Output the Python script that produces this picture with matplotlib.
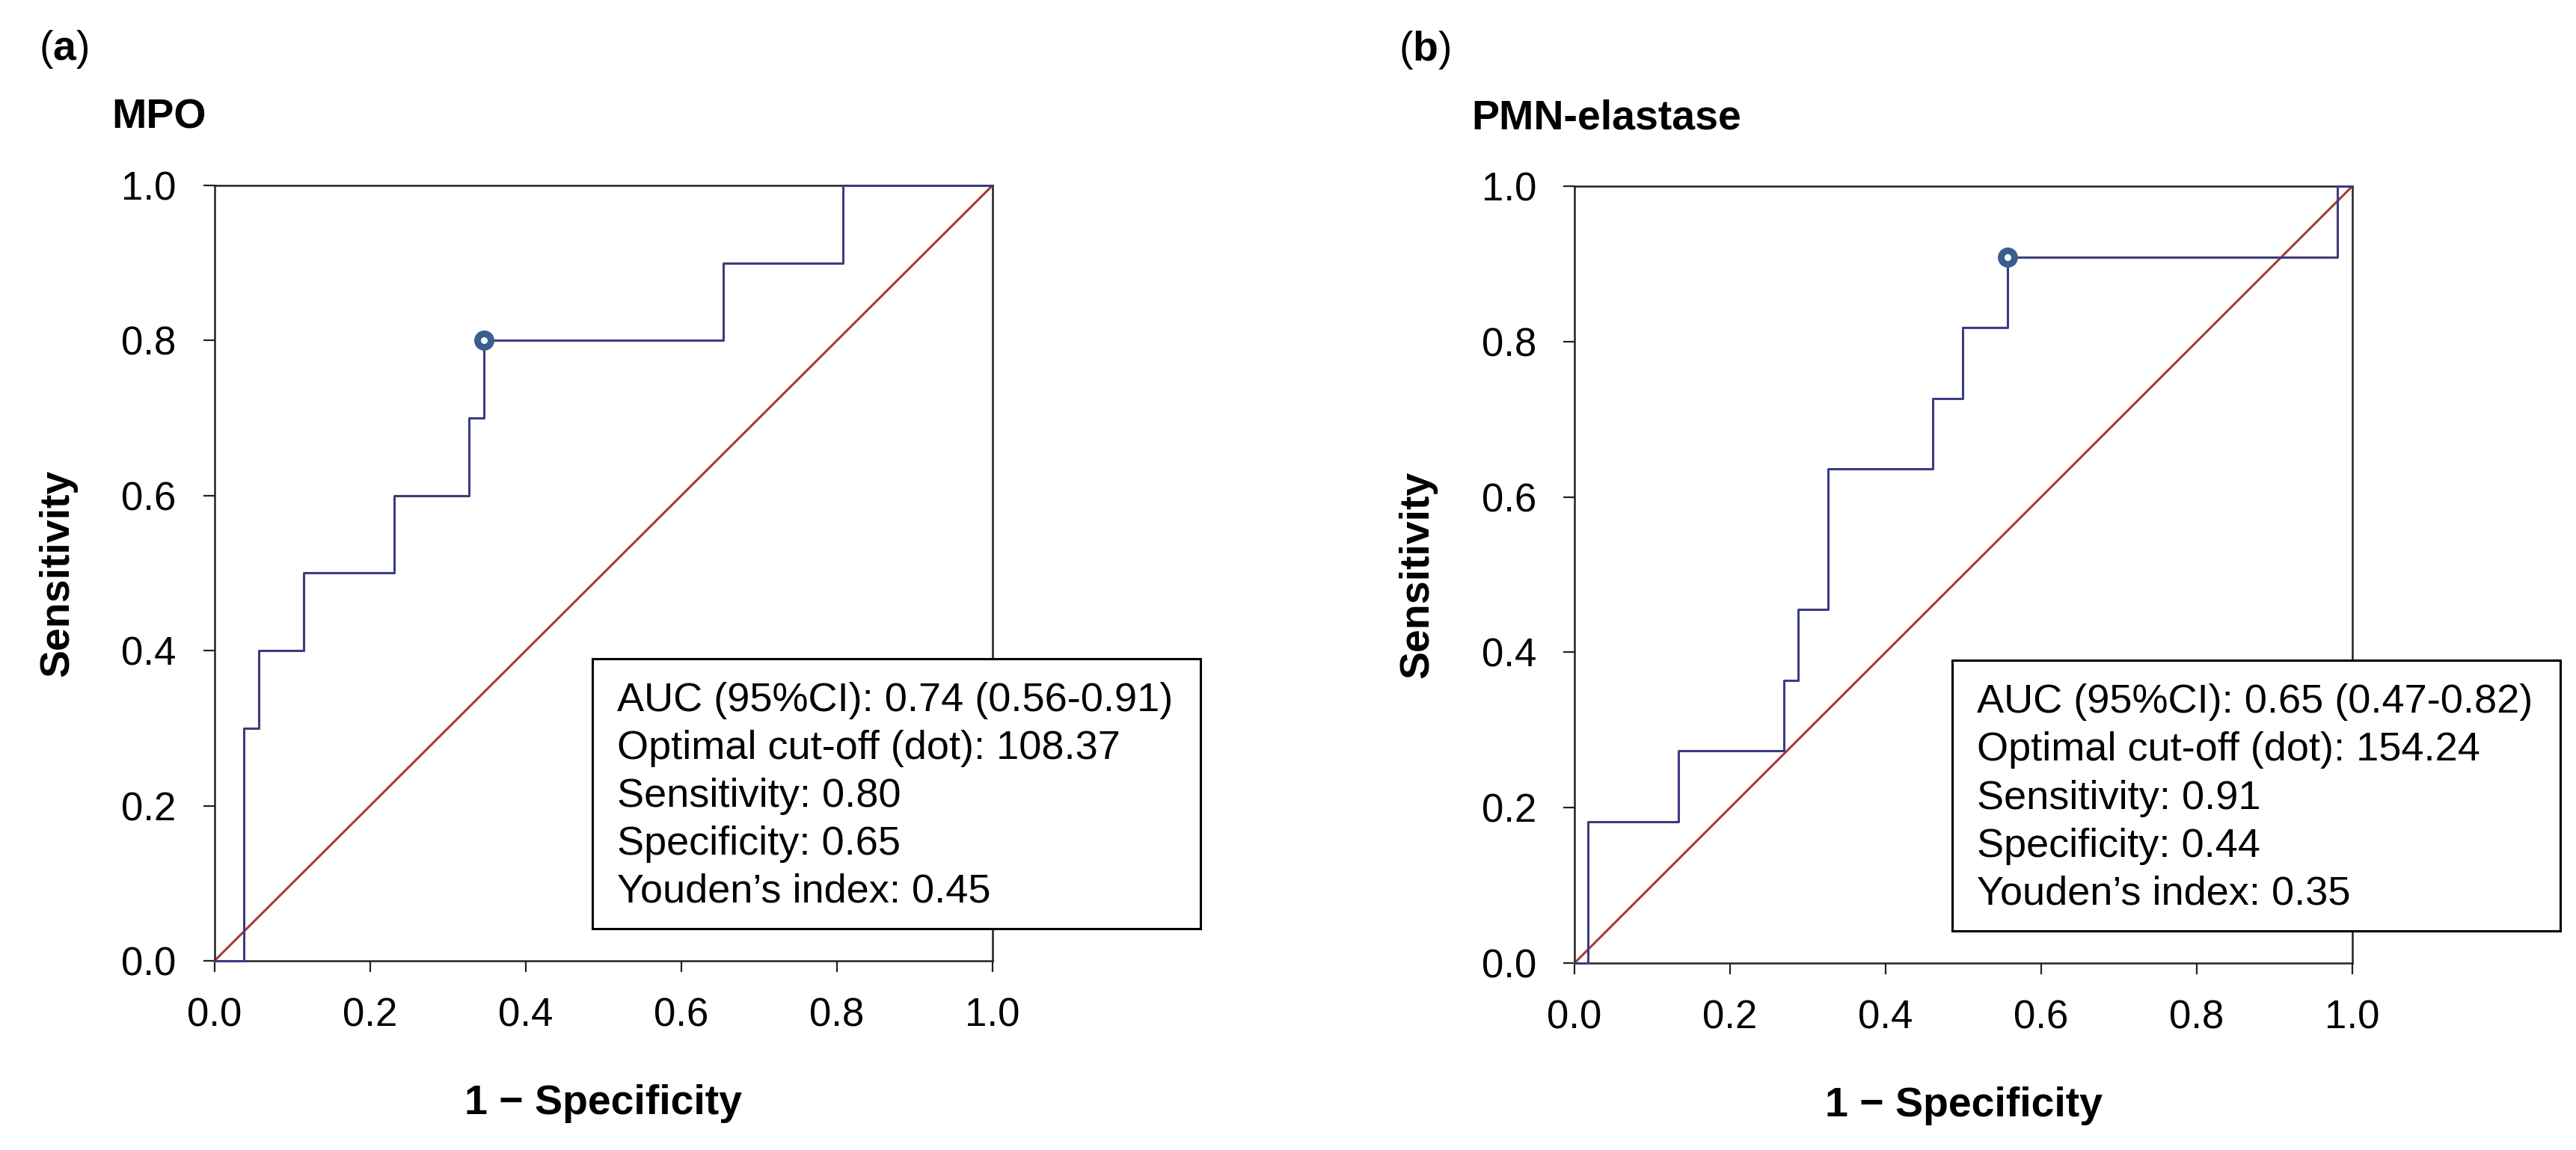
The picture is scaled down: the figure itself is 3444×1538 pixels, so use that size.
import matplotlib
matplotlib.use("Agg")
import matplotlib.pyplot as plt
from matplotlib.patches import Rectangle
from matplotlib.ticker import FormatStrFormatter

plt.rcParams['font.family'] = ['Liberation Sans', 'DejaVu Sans']
plt.rcParams['mathtext.fontset'] = 'custom'
plt.rcParams['mathtext.rm'] = 'Liberation Sans'
plt.rcParams['mathtext.bf'] = 'Liberation Sans:bold'

# ---- data ----
panel_letters = ["a", "b"]
titles = ["MPO", "PMN-elastase"]

mpo_fpr = [0.0, 0.038, 0.057, 0.115, 0.231, 0.327, 0.346, 0.654, 0.808, 1.0]
mpo_tpr = [0.0, 0.3, 0.4, 0.5, 0.6, 0.7, 0.8, 0.9, 1.0, 1.0]
mpo_cut = (0.346, 0.80)

pmn_fpr = [0.0, 0.0176, 0.134, 0.269, 0.2875, 0.326, 0.461, 0.499, 0.557, 0.981, 1.0]
pmn_tpr = [0.0, 0.182, 0.273, 0.364, 0.455, 0.636, 0.727, 0.818, 0.909, 1.0, 1.0]
pmn_cut = (0.557, 0.909)

mpo_stats = ["AUC (95%CI): 0.74 (0.56-0.91)",
             "Optimal cut-off (dot): 108.37",
             "Sensitivity: 0.80",
             "Specificity: 0.65",
             "Youden\u2019s index: 0.45"]
pmn_stats = ["AUC (95%CI): 0.65 (0.47-0.82)",
             "Optimal cut-off (dot): 154.24",
             "Sensitivity: 0.91",
             "Specificity: 0.44",
             "Youden\u2019s index: 0.35"]

ticks = [0.0, 0.2, 0.4, 0.6, 0.8, 1.0]
xlabel = "1 \u2212 Specificity"
ylabel = "Sensitivity"

curves = [(mpo_fpr, mpo_tpr, mpo_cut, mpo_stats),
          (pmn_fpr, pmn_tpr, pmn_cut, pmn_stats)]

# ---- figure ----
W, H, DPI = 3444, 1538, 200
fig = plt.figure(figsize=(W / DPI, H / DPI), dpi=DPI)

axes_rects = [
    [286.7 / W, 1 - 1285 / H, 1040.3 / W, 1037 / H],
    [2105 / W, 1 - 1288 / H, 1040 / W, 1039 / H],
]

line_col = '#3b3d80'
diag_col = '#a63a3a'
dot_col = '#3a5f8f'

for i, (rect, (fx, ty, cut, stats)) in enumerate(zip(axes_rects, curves)):
    ax = fig.add_axes(rect)
    ax.set_xlim(0, 1)
    ax.set_ylim(0, 1)
    ax.plot([0, 1], [0, 1], color=diag_col, lw=1.1, zorder=2)
    ax.step(fx, ty, where='post', color=line_col, lw=1.1, zorder=3, clip_on=False)
    ax.plot([cut[0]], [cut[1]], marker='o', ms=6.5, mew=3.2, mfc='white',
            mec=dot_col, zorder=5, clip_on=False)

    ax.set_xticks(ticks)
    ax.set_yticks(ticks)
    ax.xaxis.set_major_formatter(FormatStrFormatter('%.1f'))
    ax.yaxis.set_major_formatter(FormatStrFormatter('%.1f'))
    ax.tick_params(axis='both', direction='out', length=5.4, width=0.8,
                   labelsize=19, color='#222222')
    ax.tick_params(axis='x', pad=12)
    ax.tick_params(axis='y', pad=13)
    for s in ax.spines.values():
        s.set_linewidth(0.9)
        s.set_color('#222222')

    ax.set_xlabel(xlabel, fontsize=20, fontweight='bold')
    ax.xaxis.label.set_va('center')
    ax.xaxis.set_label_coords(0.5, -0.184)
    ax.set_ylabel(ylabel, fontsize=20, fontweight='bold')
    ax.yaxis.label.set_va('center')
    ax.yaxis.set_label_coords(-0.2016, 0.5)

    ax.text(-0.1324, 1.0733, titles[i], transform=ax.transAxes,
            fontsize=20, fontweight='bold', ha='left', va='baseline')
    ax.text(-0.2256, 1.162, r'($\mathbf{%s}$)' % panel_letters[i],
            transform=ax.transAxes, fontsize=20, ha='left', va='baseline')

    box = Rectangle((0.486, 0.0415), 0.781, 0.348, transform=ax.transAxes,
                    facecolor='white', edgecolor='black', lw=1.1,
                    clip_on=False, zorder=6)
    ax.add_patch(box)
    for k, line in enumerate(stats):
        ax.text(0.517, 0.3221 - k * 0.0617, line, transform=ax.transAxes,
                fontsize=19.5, ha='left', va='baseline', zorder=7)

fig.savefig("out.png", dpi=DPI, facecolor='white')
